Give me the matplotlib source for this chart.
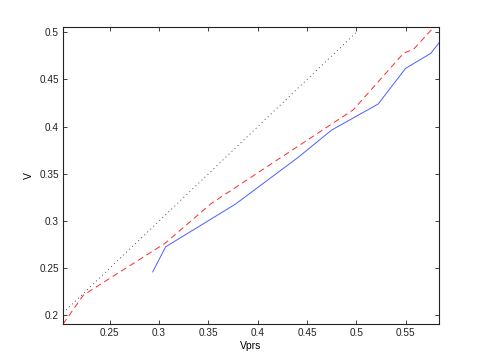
import matplotlib
matplotlib.use("Agg")
import matplotlib.pyplot as plt

plt.rcParams['font.family'] = ['Liberation Sans', 'DejaVu Sans']
plt.rcParams['lines.scale_dashes'] = False

# Data
blue_x = [0.2936, 0.3067, 0.3775, 0.4410, 0.4749, 0.5221, 0.5499, 0.5755, 0.5839]
blue_y = [0.2462, 0.2727, 0.3180, 0.3675, 0.3964, 0.4240, 0.4618, 0.4777, 0.4890]

red_x = [0.2027, 0.2233, 0.3060, 0.3530, 0.4970, 0.5480, 0.5580, 0.5790]
red_y = [0.1910, 0.2215, 0.2764, 0.3187, 0.4180, 0.4780, 0.4820, 0.5060]

dot_x = [0.2027, 0.5000]
dot_y = [0.2027, 0.5000]

xticks = [0.25, 0.3, 0.35, 0.4, 0.45, 0.5, 0.55]
xticklabels = ['0.25', '0.3', '0.35', '0.4', '0.45', '0.5', '0.55']
yticks = [0.2, 0.25, 0.3, 0.35, 0.4, 0.45, 0.5]
yticklabels = ['0.2', '0.25', '0.3', '0.35', '0.4', '0.45', '0.5']

fig = plt.figure(figsize=(4.85, 3.64), dpi=100)
ax = fig.add_axes([0.13, 0.11, 0.775, 0.815])

ax.plot(blue_x, blue_y, color='#4a60ff', linewidth=0.7, linestyle='-')
ax.plot(red_x, red_y, color='#ff2828', linewidth=0.7, linestyle=(0, (4.3, 2.9)))
ax.plot(dot_x, dot_y, color='#333333', linewidth=0.6, linestyle=(0, (0.7, 2.3)))

ax.set_xlim(0.2027, 0.5837)
ax.set_ylim(0.191, 0.5053)
ax.set_xticks(xticks)
ax.set_xticklabels(xticklabels)
ax.set_yticks(yticks)
ax.set_yticklabels(yticklabels)

ax.tick_params(direction='in', length=3, width=0.6, top=True, right=True,
               labelsize=7.2, pad=3, colors='#222222')
for s in ax.spines.values():
    s.set_linewidth(0.8)
    s.set_color('#222222')

ax.set_xlabel('Vprs', fontsize=7.5, labelpad=2)
ax.set_ylabel('V', fontsize=7.5, labelpad=4)

fig.savefig('out.png', dpi=100)
